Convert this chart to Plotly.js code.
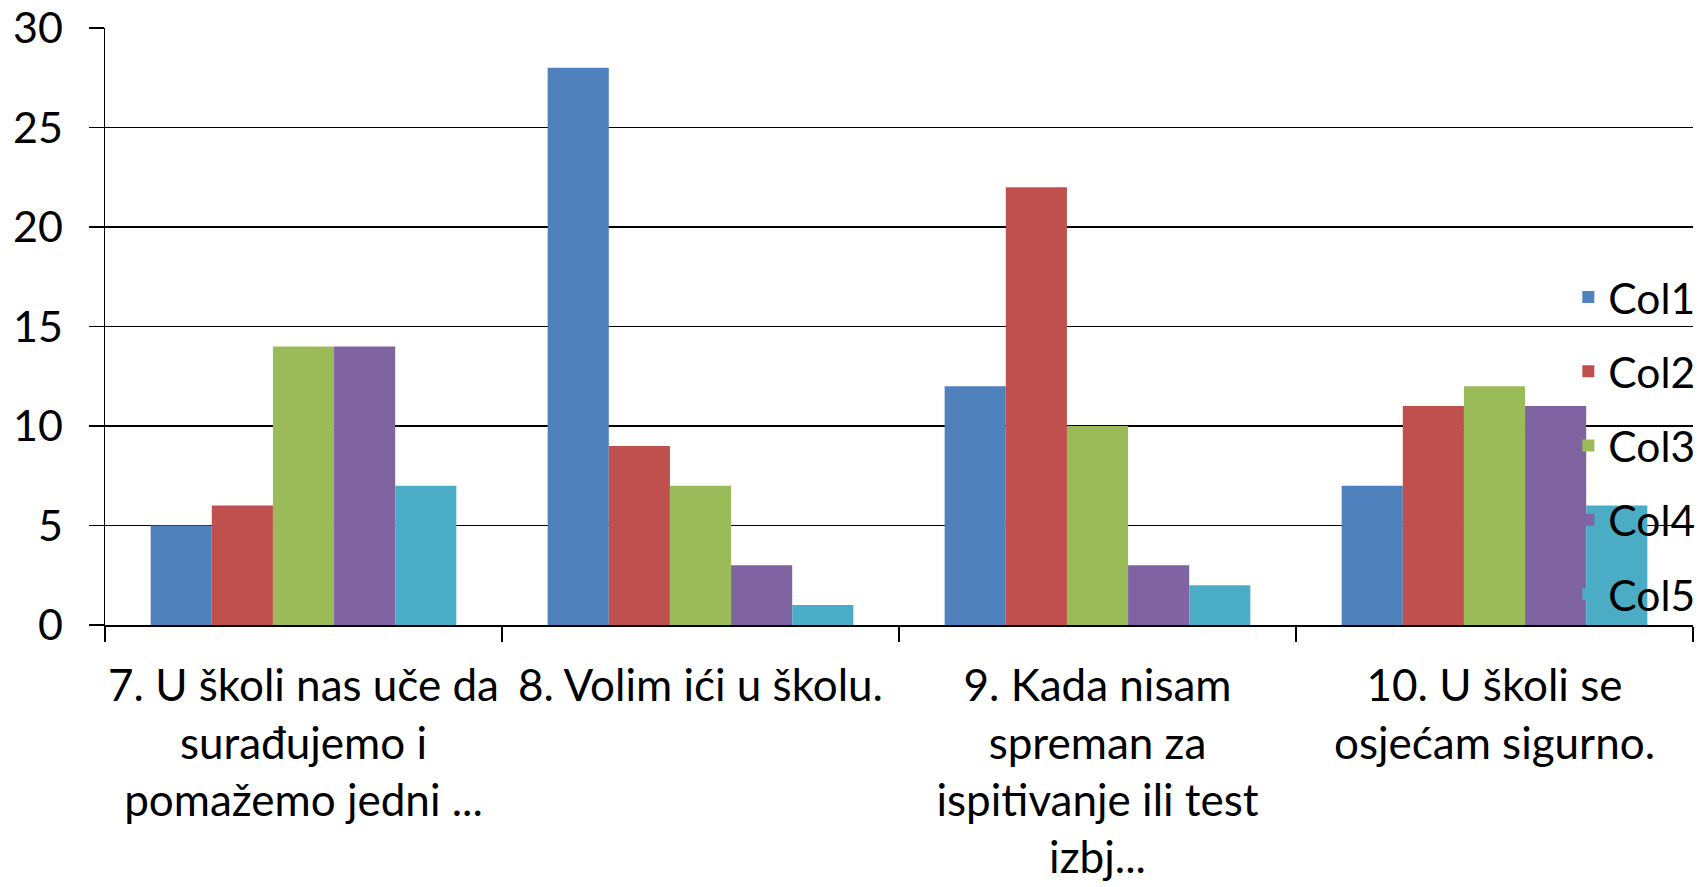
<!DOCTYPE html>
<html>
<head>
<meta charset="utf-8">
<script src="https://cdn.plot.ly/plotly-3.0.1.min.js"></script>
<style>html,body{margin:0;padding:0;background:#fff;}#chart{width:1700px;height:887px;}</style>
</head>
<body>
<div id="chart"></div>
<script>
const categories = [
  "7. U školi nas uče da<br>surađujemo i<br>pomažemo jedni ...",
  "8. Volim ići u školu.",
  "9. Kada nisam<br>spreman za<br>ispitivanje ili test<br>izbj...",
  "10. U školi se<br>osjećam sigurno."
];
const seriesNames = ["Col1", "Col2", "Col3", "Col4", "Col5"];
const col1 = [5, 28, 12, 7];
const col2 = [6, 9, 22, 11];
const col3 = [14, 7, 10, 12];
const col4 = [14, 3, 3, 11];
const col5 = [7, 1, 2, 6];
const colors = ["#4F81BD", "#C0504D", "#9BBB59", "#8064A2", "#4BACC6"];
const yTicks = [0, 5, 10, 15, 20, 25, 30];

const values = [col1, col2, col3, col4, col5];
const traces = values.map((v, i) => ({
  type: "bar",
  name: seriesNames[i],
  x: categories,
  y: v,
  marker: {color: colors[i], line: {width: 0}},
  legendgroup: "g" + i
}));

const FONT = "Lato, 'Open Sans', sans-serif";
const layout = {
  width: 1700,
  height: 887,
  margin: {l: 105, r: 7, t: 28, b: 262, autoexpand: false},
  paper_bgcolor: "#ffffff",
  plot_bgcolor: "#ffffff",
  font: {family: FONT, size: 42, color: "#000000"},
  barmode: "group",
  bargap: 0.23,
  bargroupgap: 0,
  showlegend: true,
  legend: {
    x: 0.9215, xanchor: "left",
    y: 0.30, yanchor: "middle",
    bgcolor: "rgba(0,0,0,0)",
    font: {family: FONT, size: 42.5, color: "#000"},
    tracegroupgap: 16,
    traceorder: "grouped"
  },
  xaxis: {
    type: "category",
    showline: true, linecolor: "#000", linewidth: 1.5,
    ticks: "outside", tickson: "boundaries", ticklen: 15, tickcolor: "#000", tickwidth: 1.5,
    showgrid: false,
    tickangle: 0,
    ticklabelstandoff: 22,
    tickfont: {family: FONT, size: 44, color: "#000"},
    automargin: false
  },
  yaxis: {
    range: [0, 30],
    tickvals: yTicks,
    ticktext: yTicks.map(String),
    showline: true, linecolor: "#000", linewidth: 1.5,
    ticks: "outside", ticklen: 15, tickcolor: "#000", tickwidth: 1.5,
    showgrid: true, gridcolor: "#000", gridwidth: 1.5,
    zeroline: false,
    ticklabelstandoff: 17,
    tickfont: {family: FONT, size: 43, color: "#000"},
    automargin: false
  }
};

Plotly.newPlot("chart", traces, layout, {displayModeBar: false, staticPlot: true});
</script>
</body>
</html>
